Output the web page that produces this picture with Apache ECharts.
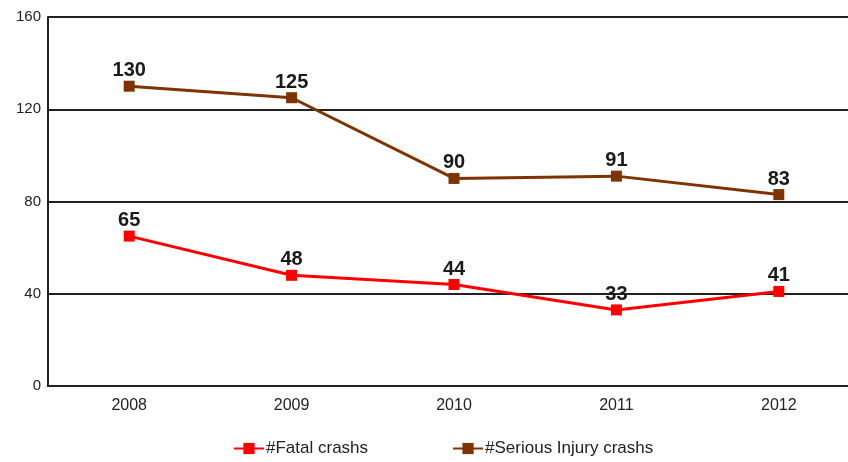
<!DOCTYPE html>
<html>
<head>
<meta charset="utf-8">
<script src="https://cdn.jsdelivr.net/npm/echarts@6/dist/echarts.min.js"></script>
<style>
  html, body { margin: 0; padding: 0; background: #fff; overflow: hidden; }
  #chart { width: 860px; height: 462px; }
</style>
</head>
<body>
<div id="chart"></div>
<script>
const years = ["2008", "2009", "2010", "2011", "2012"]
const fatal = [65, 48, 44, 33, 41]
const serious = [130, 125, 90, 91, 83]
const yTicks = [0, 40, 80, 120, 160]

// the plot runs a little past the right edge of the window, like the source image
const chart = echarts.init(document.getElementById("chart"))

const labelStyle = {
  show: true,
  position: "top",
  distance: 0,
  fontFamily: "Arial, 'Liberation Sans'",
  fontWeight: "bold",
  fontSize: 20,
  color: "#1a1a1a",
}

chart.setOption({
  animation: false,
  textStyle: { fontFamily: "Arial, 'Liberation Sans'" },
  grid: { left: 48, top: 17, right: 0, height: 369 },
  legend: {
    top: 440,
    left: 233,
    padding: 0,
    itemGap: 84,
    itemWidth: 30,
    itemHeight: 14,
    textStyle: { fontSize: 17, color: "#222", padding: [0, 0, 0, -3] },
    data: ["#Fatal crashs", "#Serious Injury crashs"],
  },
  xAxis: {
    type: "category",
    data: years,
    boundaryGap: true,
    axisLine: { lineStyle: { color: "#222", width: 2 } },
    axisTick: { show: false },
    axisLabel: { fontSize: 16, color: "#222", margin: 12 },
  },
  yAxis: {
    type: "value",
    min: yTicks[0],
    max: yTicks[yTicks.length - 1],
    interval: 40,
    axisLine: { show: true, lineStyle: { color: "#222", width: 2 } },
    axisTick: { show: false },
    axisLabel: { fontSize: 15, color: "#222", margin: 7 },
    splitLine: { lineStyle: { color: "#222", width: 2 } },
  },
  series: [
    {
      name: "#Fatal crashs",
      type: "line",
      data: fatal,
      symbol: "rect",
      symbolSize: 11,
      color: "#ff0000",
      lineStyle: { width: 3, color: "#ff0000" },
      itemStyle: { color: "#ff0000" },
      label: labelStyle,
    },
    {
      name: "#Serious Injury crashs",
      type: "line",
      data: serious,
      symbol: "rect",
      symbolSize: 11,
      color: "#7f3300",
      lineStyle: { width: 3, color: "#7f3300" },
      itemStyle: { color: "#7f3300" },
      label: labelStyle,
    },
  ],
})
</script>
</body>
</html>
